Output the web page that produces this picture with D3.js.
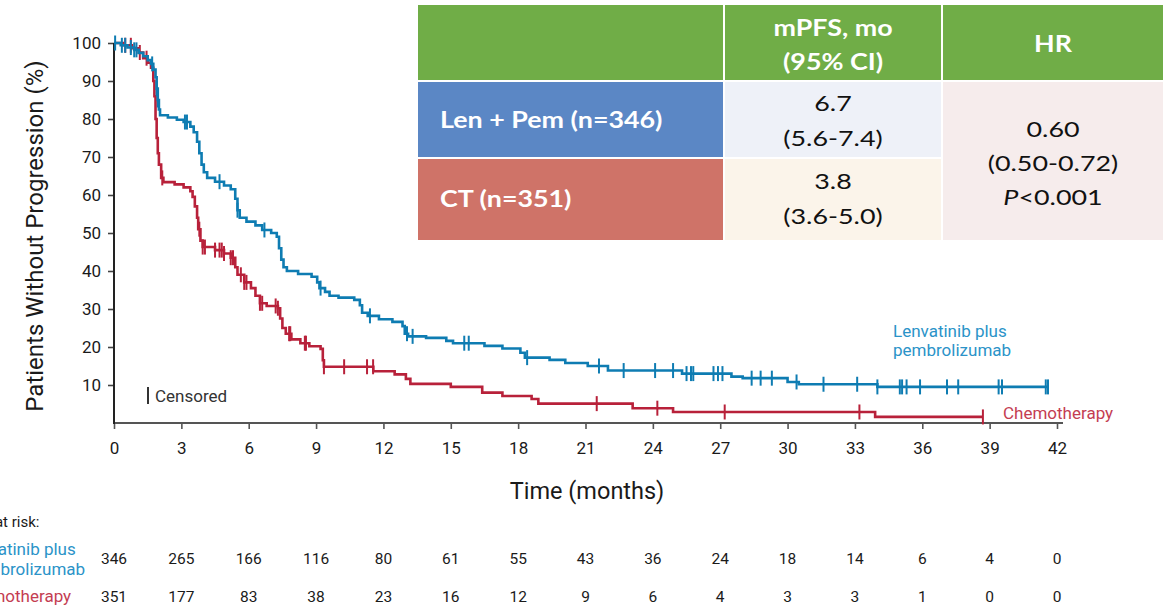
<!DOCTYPE html>
<html>
<head>
<meta charset="utf-8">
<script src="https://cdn.jsdelivr.net/npm/d3@7"></script>
<style>
  html, body { margin: 0; padding: 0; background: #fff; overflow: hidden; }
  svg { display: block; }
</style>
</head>
<body>
<svg id="chart" width="1163" height="605"></svg>
<script>
// ---- Kaplan-Meier step data: [month, % without progression after the step] ----
const lenPemSteps = [
  [0,100],[0.3,99.4],[0.6,98.8],[0.9,98.2],[1.1,97.4],[1.3,96.5],[1.5,95.5],[1.65,94.5],
  [1.75,93],[1.85,91],[1.9,88],[1.95,85],[2.0,82.5],[2.05,81],[2.4,80.4],[2.8,79.8],
  [3.1,79.2],[3.4,78],[3.55,76.5],[3.7,74],[3.8,71],[3.9,68],[4.0,66],[4.15,64.5],
  [4.5,63.5],[4.9,62.5],[5.2,61.5],[5.4,59],[5.5,56],[5.6,54],[5.9,53],[6.3,52],
  [6.6,50.8],[7.0,50],[7.25,49],[7.35,46],[7.45,43],[7.55,41],[7.7,40],[8.2,39.2],
  [8.8,38.5],[9.05,37],[9.15,35.5],[9.4,34.5],[9.6,33.5],[10.0,33],[10.7,32.4],
  [10.95,31],[11.05,29],[11.3,28.2],[11.8,27.3],[12.4,26.6],[12.85,25.5],[12.95,23.5],
  [13.1,22.8],[13.9,22.4],[14.8,21.6],[15.1,21],[16.5,20.3],[17.3,19.6],[18.1,18.5],
  [18.3,17.2],[19.4,16.6],[20.1,15.8],[21.1,15],[22.0,13.8],[25.3,13.0],[27.5,12.2],
  [28.0,11.8],[30.0,10.8],[30.5,10.2],[34.0,9.5]
];
const lenPemEnd = 41.6;
const lenPemCensored = [
  0.05,0.35,0.5,0.75,0.9,1.0,1.7,1.9,1.95,3.16,3.25,4.7,5.5,6.7,9.2,11.4,13.05,13.3,
  15.6,15.8,18.4,21.6,22.7,24.1,24.9,25.5,25.7,25.8,26.7,26.9,27.1,28.4,28.8,29.3,
  30.4,31.6,33.1,34.0,35.0,35.1,35.3,35.9,37.1,37.6,39.4,39.55,41.5,41.6
];

const chemoSteps = [
  [0,100],[0.4,99.4],[0.8,98.6],[1.1,97.5],[1.3,96],[1.5,94.8],[1.65,93.5],[1.75,90],
  [1.8,86],[1.85,80],[1.9,75],[1.95,71],[2.0,68],[2.1,64.5],[2.2,63.4],[2.7,62.8],
  [3.1,62],[3.4,61],[3.5,59.5],[3.6,57],[3.7,54],[3.75,51],[3.85,48],[3.95,46.3],
  [4.5,45.5],[4.9,44.6],[5.2,43.5],[5.4,41],[5.5,39],[5.8,37],[6.1,35.5],[6.3,33.5],
  [6.5,31.5],[6.8,30.8],[7.3,30.2],[7.4,27.5],[7.5,25],[7.65,23.5],[7.9,22],[8.3,21],
  [8.7,20.2],[9.2,19.5],[9.3,16.5],[9.35,14.8],[11.55,13.6],[12.5,12.8],[13.0,11.6],
  [13.2,10.3],[15.0,9.5],[16.4,8.0],[17.3,7.1],[18.6,6.3],[18.9,5.1],[23.1,3.9],
  [24.9,2.9],[33.9,1.6]
];
const chemoEnd = 38.7;
const chemoCensored = [
  0.5,0.75,1.15,1.45,2.15,3.8,3.95,4.05,4.5,4.7,4.8,4.9,5.2,5.3,5.65,5.8,5.9,6.5,6.6,
  7.2,7.3,7.8,7.85,8.5,8.55,9.35,10.25,11.27,11.54,21.5,24.2,27.2,33.2,38.7
];

// ---- axes ----
const xTicks = [0,3,6,9,12,15,18,21,24,27,30,33,36,39,42];
const yTicks = [10,20,30,40,50,60,70,80,90,100];

// ---- numbers at risk ----
const riskLenPem = [346,265,166,116,80,61,55,43,36,24,18,14,6,4,0];
const riskChemo  = [351,177,83,38,23,16,12,9,6,4,3,3,1,0,0];

// ---- summary table ----
const tableHeader = ["", ["mPFS, mo", "(95% CI)"], ["HR"]];
const armLabels = ["Len + Pem (n=346)", "CT (n=351)"];
const armMedians = [["6.7", "(5.6-7.4)"], ["3.8", "(3.6-5.0)"]];
const hrLines = ["0.60", "(0.50-0.72)", "<0.001"];

const BLUE = "#0e7cb2";
const RED = "#b8213a";
const BLUE_TXT = "#2b93c8";
const RED_TXT = "#c43d52";
const INK = "#1a1a1a";
const FONT = "Roboto, 'Liberation Sans', sans-serif";
const TFONT = "Lato, 'Open Sans', sans-serif";

const svg = d3.select("#chart");
const x = d3.scaleLinear().domain([0, 42]).range([114, 1057]);
const y = d3.scaleLinear().domain([0, 100]).range([423, 43]);

// axes
const gx = svg.append("g").attr("transform", `translate(0,${y(0)})`)
  .call(d3.axisBottom(x).tickValues(xTicks).tickSize(6).tickSizeOuter(0).tickPadding(13));
gx.select(".domain").remove();
gx.selectAll(".tick line").attr("stroke", "#555").attr("stroke-width", 1.6);
gx.selectAll(".tick text").attr("font-family", FONT).attr("font-size", 17).attr("fill", INK);
svg.append("line").attr("x1", x(0) - 1).attr("x2", x(42) + 6)
  .attr("y1", y(0)).attr("y2", y(0)).attr("stroke", "#555").attr("stroke-width", 2);

const gy = svg.append("g").attr("transform", `translate(${x(0)},0)`)
  .call(d3.axisLeft(y).tickValues(yTicks).tickSize(6).tickSizeOuter(0).tickPadding(7));
gy.select(".domain").remove();
gy.selectAll(".tick line").attr("stroke", "#444").attr("stroke-width", 1.6);
gy.selectAll(".tick text").attr("font-family", FONT).attr("font-size", 17).attr("fill", INK);
svg.append("line").attr("x1", x(0)).attr("x2", x(0))
  .attr("y1", y(100)).attr("y2", y(0) + 1).attr("stroke", "#222").attr("stroke-width", 2);

// axis titles
svg.append("text").attr("x", 587).attr("y", 499).attr("text-anchor", "middle")
  .attr("font-family", FONT).attr("font-size", 23.5).attr("fill", INK).text("Time (months)");
svg.append("text").attr("transform", "translate(43,236) rotate(-90)").attr("text-anchor", "middle")
  .attr("font-family", FONT).attr("font-size", 24).attr("fill", INK)
  .text("Patients Without Progression (%)");

// survival lookup used for censor marks
function survivalAt(steps, t) {
  let v = steps[0][1];
  for (const s of steps) { if (s[0] <= t) v = s[1]; else break; }
  return v;
}

const stepLine = d3.line().x(d => x(d[0])).y(d => y(d[1])).curve(d3.curveStepAfter);

function drawArm(steps, end, censored, color) {
  const pts = steps.concat([[end, steps[steps.length - 1][1]]]);
  svg.append("path").datum(pts).attr("d", stepLine)
    .attr("fill", "none").attr("stroke", color).attr("stroke-width", 2.6)
    .attr("stroke-linejoin", "miter");
  svg.append("g").selectAll("line").data(censored).join("line")
    .attr("x1", d => x(d)).attr("x2", d => x(d))
    .attr("y1", d => y(survivalAt(steps, d)) - 7.5)
    .attr("y2", d => y(survivalAt(steps, d)) + 7.5)
    .attr("stroke", color).attr("stroke-width", 2);
}
drawArm(chemoSteps, chemoEnd, chemoCensored, RED);
drawArm(lenPemSteps, lenPemEnd, lenPemCensored, BLUE);

// curve labels
svg.append("text").attr("font-family", FONT).attr("font-size", 17).attr("fill", BLUE_TXT)
  .selectAll("tspan").data(["Lenvatinib plus", "pembrolizumab"]).join("tspan")
  .attr("x", 893).attr("y", (d, i) => 337 + i * 19).text(d => d);
svg.append("text").attr("x", 1003).attr("y", 419).attr("font-family", FONT)
  .attr("font-size", 17).attr("fill", RED_TXT).text("Chemotherapy");

// censored legend
svg.append("line").attr("x1", 148).attr("x2", 148).attr("y1", 387).attr("y2", 404)
  .attr("stroke", "#333").attr("stroke-width", 2);
svg.append("text").attr("x", 155).attr("y", 402).attr("font-family", FONT)
  .attr("font-size", 17).attr("fill", "#333").text("Censored");

// numbers at risk (row labels start left of the visible area)
svg.append("text").attr("x", -32).attr("y", 527).attr("font-family", FONT)
  .attr("font-size", 15).attr("fill", INK).text("No. at risk:");
svg.append("text").attr("font-family", FONT).attr("font-size", 17).attr("fill", BLUE_TXT)
  .selectAll("tspan").data(["Lenvatinib plus", "pembrolizumab"]).join("tspan")
  .attr("x", (d, i) => [-38, -33][i]).attr("y", (d, i) => 555 + i * 20).text(d => d);
svg.append("text").attr("x", -39).attr("y", 602).attr("font-family", FONT)
  .attr("font-size", 17).attr("fill", RED_TXT).text("Chemotherapy");

svg.append("g").selectAll("text").data(riskLenPem).join("text")
  .attr("x", (d, i) => x(xTicks[i])).attr("y", 564).attr("text-anchor", "middle")
  .attr("font-family", FONT).attr("font-size", 15.5).attr("fill", INK).text(d => d);
svg.append("g").selectAll("text").data(riskChemo).join("text")
  .attr("x", (d, i) => x(xTicks[i])).attr("y", 602).attr("text-anchor", "middle")
  .attr("font-family", FONT).attr("font-size", 15.5).attr("fill", INK).text(d => d);

// ---- summary table ----
const tbl = svg.append("g");
const colX = [418, 725, 943, 1163];
const rowY = [5, 82, 159, 240];
const cell = (x0, y0, x1, y1, fill) =>
  tbl.append("rect").attr("x", x0).attr("y", y0).attr("width", x1 - x0).attr("height", y1 - y0).attr("fill", fill);

cell(colX[0], rowY[0], colX[1] - 2, rowY[1] - 2, "#70ad47");
cell(colX[1], rowY[0], colX[2] - 2, rowY[1] - 2, "#70ad47");
cell(colX[2], rowY[0], colX[3], rowY[1] - 2, "#70ad47");
cell(colX[0], rowY[1], colX[1] - 2, rowY[2] - 2, "#5b87c5");
cell(colX[0], rowY[2], colX[1] - 2, rowY[3], "#cf7368");
cell(colX[1], rowY[1], colX[2] - 2, rowY[2] - 2, "#eef1f8");
cell(colX[1], rowY[2], colX[2] - 2, rowY[3], "#fbf4ea");
cell(colX[2], rowY[1], colX[3], rowY[3], "#f6ecec");

const midC1 = (colX[1] + colX[2] - 2) / 2;
const midC2 = (colX[2] + colX[3]) / 2;

// table text is set a little wide
function tText(px, py, str, opts) {
  const t = tbl.append("text")
    .attr("transform", `translate(${px},${py}) scale(${opts.sx},1)`)
    .attr("font-family", TFONT).attr("font-size", opts.size)
    .attr("font-weight", opts.bold ? 700 : 400)
    .attr("fill", opts.fill).attr("text-anchor", opts.anchor || "middle");
  if (str !== null) t.text(str);
  return t;
}
const HEAD = { sx: 1.22, size: 22, bold: true, fill: "#fff" };
const VAL = { sx: 1.28, size: 21, bold: false, fill: "#111" };

tableHeader[1].forEach((s, i) => tText(midC1, 36 + i * 34, s, HEAD));
tText(midC2, 52, tableHeader[2][0], HEAD);
armLabels.forEach((s, i) => tText(440, [128, 207][i], s, Object.assign({}, HEAD, { anchor: "start" })));
armMedians.forEach((lines, r) => lines.forEach((s, i) => tText(midC1, [111, 189][r] + i * 35, s, VAL)));
tText(midC2, 137, hrLines[0], VAL);
tText(midC2, 171, hrLines[1], VAL);
const pLine = tText(midC2, 205, null, VAL);
pLine.append("tspan").attr("font-style", "italic").text("P");
pLine.append("tspan").text(hrLines[2]);
</script>
</body>
</html>
